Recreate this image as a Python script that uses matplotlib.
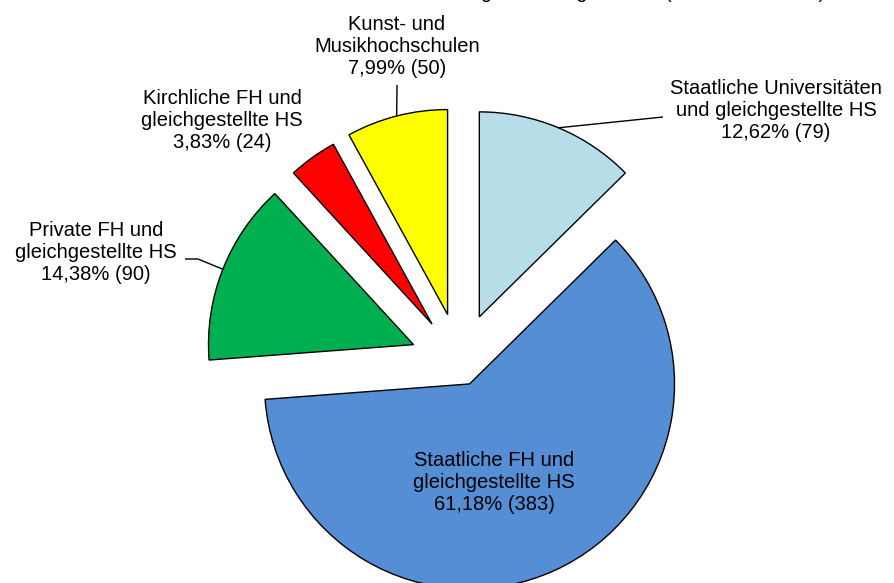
import matplotlib
matplotlib.use("Agg")
import matplotlib.pyplot as plt
import numpy as np

# ---- data ----
categories = [
    "Staatliche Universitäten\nund gleichgestellte HS",
    "Staatliche FH und\ngleichgestellte HS",
    "Private FH und\ngleichgestellte HS",
    "Kirchliche FH und\ngleichgestellte HS",
    "Kunst- und\nMusikhochschulen",
]
counts = [79, 383, 90, 24, 50]
title = "Hochschulen in Deutschland: Verteilung nach Trägerschaft (Gesamtzahl 626)"

# ---- style / layout ----
colors = ["#B7DDE8", "#558ED5", "#00B050", "#FF0000", "#FFFF00"]
explode = [50, 23, 50, 48, 50]
W, H = 894, 583
label_pos = [(776, 111), (494, 483), (96, 252), (222, 120), (397, 47)]  # pixel centres
FONT = "Liberation Sans"
FS = 14.5

fig = plt.figure(figsize=(W / 100, H / 100), dpi=100)
ax = fig.add_axes([0, 0, 1, 1])
wedges, _ = ax.pie(
    counts, colors=colors, explode=explode, radius=205,
    center=(460, H - 363), startangle=90, counterclock=False,
    wedgeprops=dict(edgecolor="black", linewidth=1.0),
)
ax.set_xlim(0, W)
ax.set_ylim(0, H)
ax.set_aspect("equal")
ax.axis("off")

total = sum(counts)
for cat, c, (px, py) in zip(categories, counts, label_pos):
    pct = f"{100 * c / total:.2f}".replace(".", ",")
    ax.text(px, H - py, f"{cat}\n{pct}% ({c})", ha="center", va="center",
            fontsize=FS, family=FONT, color="black", linespacing=1.2)


def arc_mid(w):
    t = np.deg2rad(0.5 * (w.theta1 + w.theta2))
    cx, cy = w.center
    return cx + w.r * np.cos(t), cy + w.r * np.sin(t)


# leader lines (pixel positions for label ends)
leaders = {0: [(663, 117)], 2: [(198, 259), (185, 259)], 4: [(397, 85)]}
for i, pts in leaders.items():
    x0, y0 = arc_mid(wedges[i])
    xs = [x0] + [p[0] for p in pts]
    ys = [y0] + [H - p[1] for p in pts]
    ax.plot(xs, ys, color="black", lw=1.0, solid_capstyle="butt")

# title lies above the top edge; only its descenders remain visible
fig.text(825 / W, 1 + 2.5 / H, title, ha="right", va="baseline",
         fontsize=FS, family=FONT, color="black")

fig.savefig("out.png", dpi=100, facecolor="white")
